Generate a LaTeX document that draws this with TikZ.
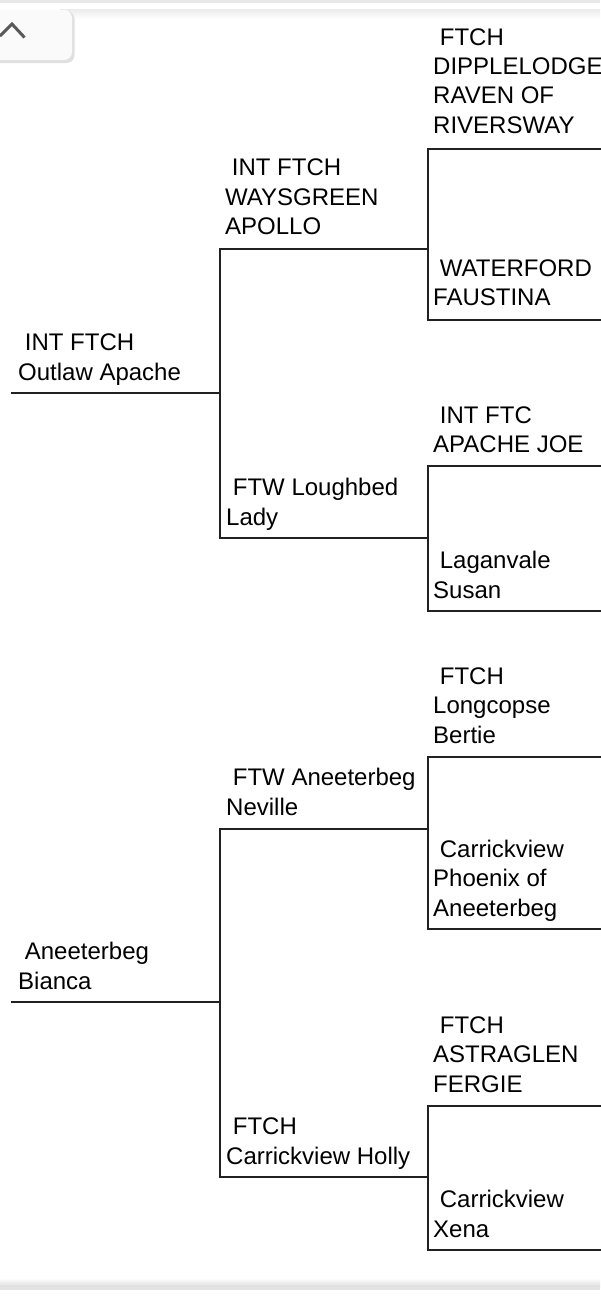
\documentclass[tikz,border=0pt]{standalone}
\usepackage{fontspec}
\setmainfont{Liberation Sans}
\begin{document}
\begin{tikzpicture}[x=1pt,y=-1pt,
  pname/.style={anchor=base west, inner sep=0pt, align=left, text=black,
    font=\fontsize{24}{29.3}\selectfont},
  pline/.style={draw=black!87, line width=2pt, line cap=rect}]
\useasboundingbox (0,0) rectangle (600,1299);
\fill[white] (0,0) rectangle (600,1299);
% top UI
\fill[black!9] (0,0) rectangle (600,2.5);
\shade[top color=black!8, bottom color=white] (60,9) rectangle (600,19);
\fill[black!12, rounded corners=8pt] (-12,11) rectangle (74.5,63);
\fill[black!2, rounded corners=8pt] (-12,10) rectangle (72,60);
\draw[black!65, line width=3pt] (0,36) -- (12,24) -- (24.5,37.5);
% bottom UI
\shade[top color=white, bottom color=black!14] (0,1278) rectangle (600,1287);
\fill[black!11] (0,1287) rectangle (600,1290);
% nodes
\node[pname] (t1) at (433,133) {\ FTCH\\DIPPLELODGE\\RAVEN OF\\RIVERSWAY};
\node[pname] (t2) at (225,234.5) {\ INT FTCH\\WAYSGREEN\\APOLLO};
\node[pname] (t3) at (433,305.5) {\ WATERFORD\\FAUSTINA};
\node[pname] (t4) at (18,380) {\ INT FTCH\\Outlaw Apache};
\node[pname] (t5) at (433,452.5) {\ INT FTC\\APACHE JOE};
\node[pname] (t6) at (226,525) {\ FTW Loughbed\\Lady};
\node[pname] (t7) at (433,598) {\ Laganvale\\Susan};
\node[pname] (t8) at (433,743) {\ FTCH\\Longcopse\\Bertie};
\node[pname] (t9) at (226,815) {\ FTW Aneeterbeg\\Neville};
\node[pname] (t10) at (433,916) {\ Carrickview\\Phoenix of\\Aneeterbeg};
\node[pname] (t11) at (18,989) {\ Aneeterbeg\\Bianca};
\node[pname] (t12) at (433,1092) {\ FTCH\\ASTRAGLEN\\FERGIE};
\node[pname] (t13) at (226,1164) {\ FTCH\\Carrickview Holly};
\node[pname] (t14) at (433,1237) {\ Carrickview\\Xena};
% line coordinates
\coordinate (a0) at (12,393);   \coordinate (a1) at (220,393);
\coordinate (a1t) at (220,249); \coordinate (a1b) at (220,538);
\coordinate (b1) at (428,249);  \coordinate (b2) at (428,538);
\coordinate (b1t) at (428,149); \coordinate (b1b) at (428,320);
\coordinate (b2t) at (428,466); \coordinate (b2b) at (428,611);
\coordinate (c1) at (600,149);  \coordinate (c2) at (600,320);
\coordinate (c3) at (600,466);  \coordinate (c4) at (600,611);
\coordinate (d0) at (12,1002);  \coordinate (d1) at (220,1002);
\coordinate (d1t) at (220,829); \coordinate (d1b) at (220,1177);
\coordinate (e1) at (428,829);  \coordinate (e2) at (428,1177);
\coordinate (e1t) at (428,757); \coordinate (e1b) at (428,929);
\coordinate (e2t) at (428,1106);\coordinate (e2b) at (428,1250);
\coordinate (f1) at (600,757);  \coordinate (f2) at (600,929);
\coordinate (f3) at (600,1106); \coordinate (f4) at (600,1250);
% connectors
\draw[pline] (a0) -- (a1);
\draw[pline] (b1) -- (a1t) -- (a1b) -- (b2);
\draw[pline] (c1) -- (b1t) -- (b1b) -- (c2);
\draw[pline] (c3) -- (b2t) -- (b2b) -- (c4);
\draw[pline] (d0) -- (d1);
\draw[pline] (e1) -- (d1t) -- (d1b) -- (e2);
\draw[pline] (f1) -- (e1t) -- (e1b) -- (f2);
\draw[pline] (f3) -- (e2t) -- (e2b) -- (f4);
\end{tikzpicture}
\end{document}
